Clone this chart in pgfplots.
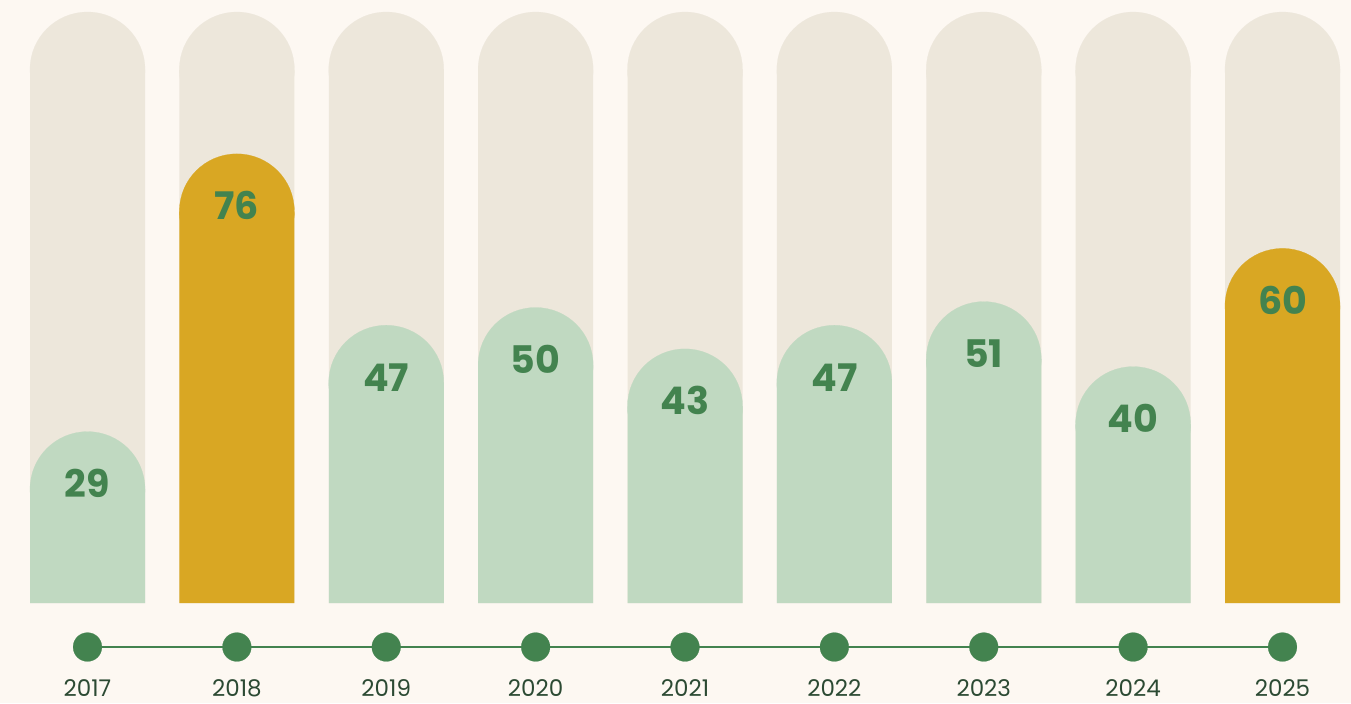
\documentclass[border=0pt]{standalone}
\usepackage{pgfplots}
\pgfplotsset{compat=1.18}
\usepackage{fontspec}
\setmainfont{Poppins}
\usetikzlibrary{backgrounds}
\definecolor{bgc}{HTML}{FDF8F2}
\definecolor{beige}{HTML}{EDE7DB}
\definecolor{lgreen}{HTML}{C0D9C1}
\definecolor{gold}{HTML}{D9A723}
\definecolor{dgreen}{HTML}{43834F}
\definecolor{ytext}{HTML}{2C4A33}
\begin{document}
\begin{tikzpicture}
\begin{axis}[
  scale only axis, width=675.5pt, height=351.5pt,
  xmin=-0.5858, xmax=8.4586, ymin=-16.92, ymax=102.03,
  axis lines=none, clip=false,
]
% background bars
\addplot[ybar, bar width=57.5pt, bar shift=0pt, fill=beige, draw=none]
  coordinates {(0,90.27) (1,90.27) (2,90.27) (3,90.27) (4,90.27) (5,90.27) (6,90.27) (7,90.27) (8,90.27)};
\addplot[only marks, color=beige, mark=*, mark size=28.75pt, mark options={solid, fill=beige, draw=beige, line width=0.1pt}]
  coordinates {(0,90.27) (1,90.27) (2,90.27) (3,90.27) (4,90.27) (5,90.27) (6,90.27) (7,90.27) (8,90.27)};
% green bars (value - 9.73)
\addplot[ybar, bar width=57.5pt, bar shift=0pt, fill=lgreen, draw=none]
  coordinates {(0,19.27) (2,37.27) (3,40.27) (4,33.27) (5,37.27) (6,41.27) (7,30.27)};
\addplot[only marks, color=lgreen, mark=*, mark size=28.75pt, mark options={solid, fill=lgreen, draw=lgreen, line width=0.1pt}]
  coordinates {(0,19.27) (2,37.27) (3,40.27) (4,33.27) (5,37.27) (6,41.27) (7,30.27)};
% gold bars
\addplot[ybar, bar width=57.5pt, bar shift=0pt, fill=gold, draw=none]
  coordinates {(1,66.27) (8,50.27)};
\addplot[only marks, color=gold, mark=*, mark size=28.75pt, mark options={solid, fill=gold, draw=gold, line width=0.1pt}]
  coordinates {(1,66.27) (8,50.27)};
% value labels
\addplot[draw=none, mark=none, nodes near coords, point meta=explicit symbolic,
  nodes near coords style={anchor=center, text=dgreen, font=\fontsize{19}{22}\selectfont\bfseries}]
  coordinates {(0,20.2)[29] (1,67.2)[76] (2,38.2)[47] (3,41.2)[50] (4,34.2)[43] (5,38.2)[47] (6,42.2)[51] (7,31.2)[40] (8,51.2)[60]};
% timeline
\addplot[dgreen, line width=0.6pt, mark=none] coordinates {(0,-7.45) (8,-7.45)};
\addplot[only marks, color=dgreen, mark=*, mark size=7.2pt, mark options={solid, fill=dgreen, draw=dgreen, line width=0.1pt}]
  coordinates {(0,-7.45) (1,-7.45) (2,-7.45) (3,-7.45) (4,-7.45) (5,-7.45) (6,-7.45) (7,-7.45) (8,-7.45)};
% year labels
\addplot[draw=none, mark=none, nodes near coords, point meta=explicit symbolic,
  nodes near coords style={anchor=base, text=ytext, font=\fontsize{11.5}{13}\selectfont}]
  coordinates {(0,-15.9)[2017] (1,-15.9)[2018] (2,-15.9)[2019] (3,-15.9)[2020] (4,-15.9)[2021] (5,-15.9)[2022] (6,-15.9)[2023] (7,-15.9)[2024] (8,-15.9)[2025]};
\end{axis}
\pgfresetboundingbox
\useasboundingbox (current axis.south west) rectangle (current axis.north east);
\begin{scope}[on background layer]
\fill[bgc] (current axis.south west) rectangle (current axis.north east);
\end{scope}
\end{tikzpicture}
\end{document}
